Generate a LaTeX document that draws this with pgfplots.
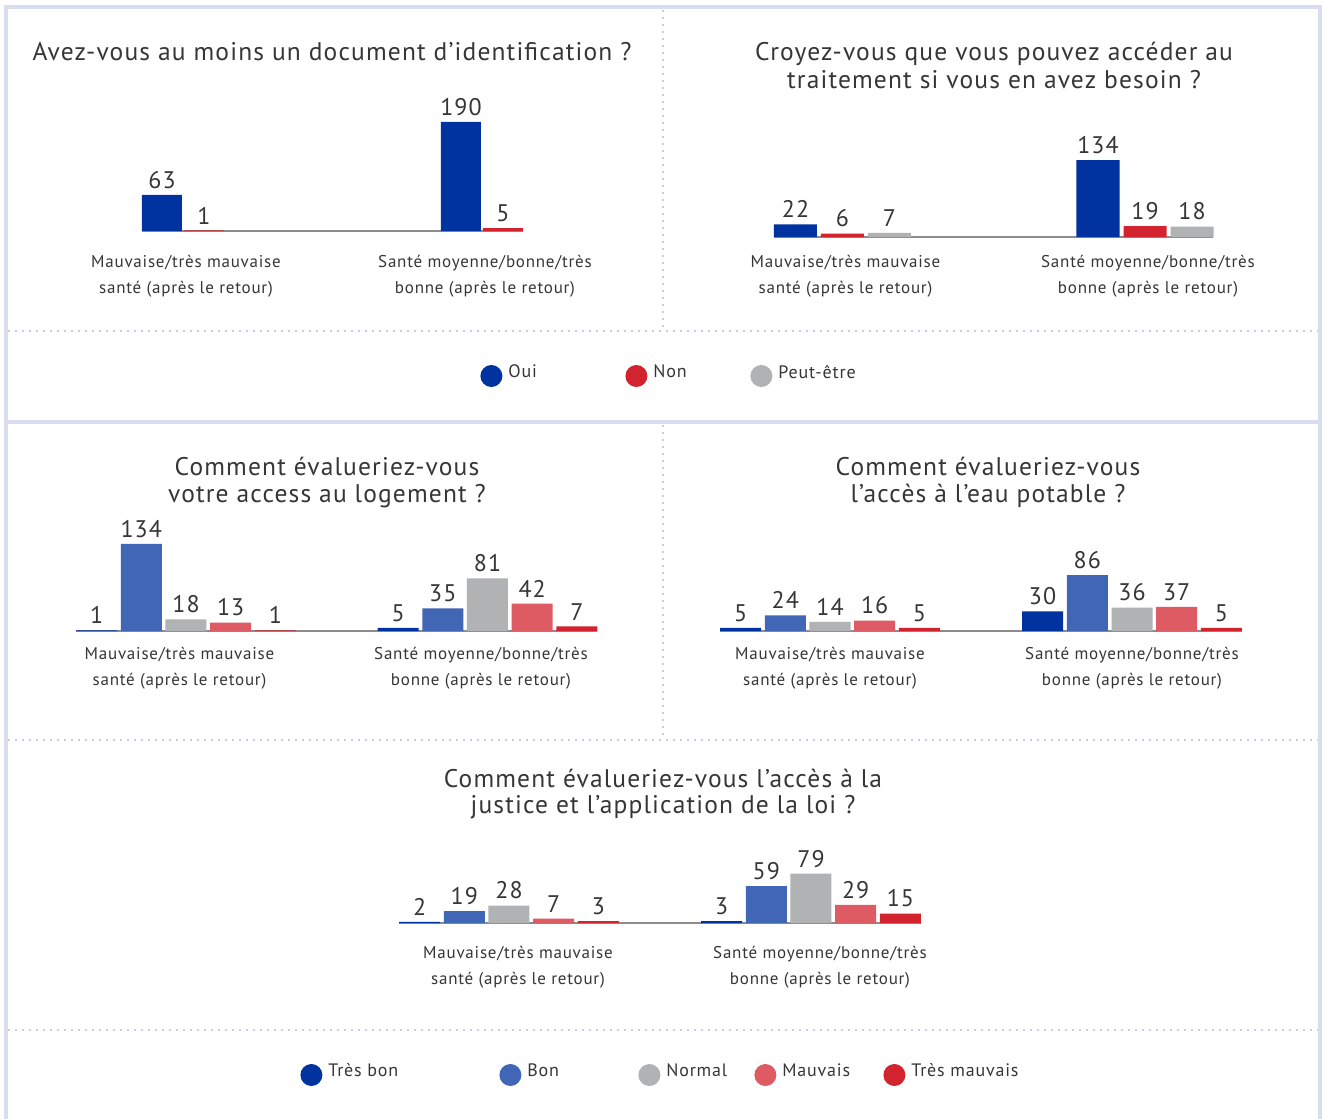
\documentclass[border=0pt]{standalone}
\usepackage{pgfplots}
\pgfplotsset{compat=1.18}
\usepackage{fontspec}
\setmainfont{PT Sans}[LetterSpace=4.5]
\definecolor{cTB}{HTML}{0033A0}
\definecolor{cB}{HTML}{4166B5}
\definecolor{cN}{HTML}{B1B2B4}
\definecolor{cM}{HTML}{DE5B63}
\definecolor{cTM}{HTML}{D2232F}
\definecolor{txt}{HTML}{363636}
\definecolor{axg}{HTML}{8C8C8C}
\definecolor{frm}{HTML}{D8DEF0}
\definecolor{dots}{HTML}{C5CDE8}
\newcommand{\titlefont}{\fontsize{12.75}{14}\selectfont}
\pgfplotsset{
  panel/.style={
    ybar, clip=false, anchor=south west,
    axis x line*=bottom, axis y line=none,
    x axis line style={draw=axg, line width=1pt, -},
    xtick={0,1}, major tick length=0pt, ytick=\empty,
    ymin=0, enlargelimits=false,
    /pgf/number format/assume math mode=true,
    xticklabels={{Mauvaise/très mauvaise\\santé (après le retour)},{Santé moyenne/bonne/très\\bonne (après le retour)}},
    xticklabel style={font=\fontsize{8.5}{13}\selectfont, text=txt, align=center},
    nodes near coords,
    nodes near coords style={font=\fontsize{12}{12}\selectfont, text=txt, inner sep=3pt},
  },
  legendaxis/.style={hide axis, scale only axis, width=2pt, height=2pt,
    xmin=0, xmax=1, ymin=0, ymax=1, anchor=west,
    legend columns=-1,
    legend style={draw=none, fill=none, at={(0,0.5)}, anchor=west,
      font=\fontsize{9}{10}\selectfont, text=txt, inner sep=0pt,
      /tikz/column sep=0pt, nodes={inner sep=0pt}},
    legend image code/.code={\path (-5.5pt,0) (5.5pt,0); \fill (0pt,0pt) circle (5.5pt);},
  }
}
\newcommand{\lt}[1]{\raisebox{3pt}{\hspace{3pt}#1}}
\begin{document}
\begin{tikzpicture}
\useasboundingbox (0,0) rectangle (661pt,-559.5pt);
\fill[white] (0,0) rectangle (661pt,-559.5pt);
% frame
\fill[frm] (2pt,-2.5pt) rectangle (661pt,-4.5pt);
\fill[frm] (2pt,-2.5pt) rectangle (4pt,-559.5pt);
\fill[frm] (659pt,-2.5pt) rectangle (661pt,-559.5pt);
\fill[frm] (2pt,-210pt) rectangle (661pt,-212pt);
\begin{scope}[draw=dots, line width=1pt, dash pattern=on 1pt off 2.5pt]
\draw (4pt,-165.5pt) -- (659pt,-165.5pt);
\draw (331.5pt,-5pt) -- (331.5pt,-165.5pt);
\draw (331.5pt,-212.5pt) -- (331.5pt,-370pt);
\draw (4pt,-370pt) -- (659pt,-370pt);
\draw (4pt,-515pt) -- (659pt,-515pt);
\end{scope}
% titles
\begin{scope}[every node/.style={anchor=base, font=\titlefont, text=txt, inner sep=0pt}]
\node at (166pt,-30.5pt) {Avez-vous au moins un document d’identification ?};
\node at (497pt,-30.5pt) {Croyez-vous que vous pouvez accéder au};
\node at (497pt,-44pt) {traitement si vous en avez besoin ?};
\node at (163.5pt,-237.5pt) {Comment évalueriez-vous};
\node at (163.5pt,-251pt) {votre access au logement ?};
\node at (494pt,-237.5pt) {Comment évalueriez-vous};
\node at (494pt,-251pt) {l’accès à l’eau potable ?};
\node at (331.5pt,-393.5pt) {Comment évalueriez-vous l’accès à la};
\node at (331.5pt,-406.5pt) {justice et l’application de la loi ?};
\end{scope}
% top-left
\begin{axis}[panel, at={(71pt,-115.5pt)}, x=149.5pt, y=0.287pt,
  xmin=-0.1371, xmax=1.1371, ymax=200, ybar=1pt, bar width=20pt,
  xticklabel style={xshift=1.5pt, yshift=-8.7pt}]
\addplot[fill=cTB, draw=none] coordinates {(0,63) (1,190)};
\addplot[fill=cTM, draw=none] coordinates {(0,1) (1,5)};
\end{axis}
% top-right
\begin{axis}[panel, at={(387pt,-118.5pt)}, x=151.25pt, y=0.2873pt,
  xmin=-0.2264, xmax=1.2264, ymax=150, ybar=2pt, bar width=21.5pt,
  xticklabel style={xshift=1.5pt, yshift=-5.7pt}]
\addplot[fill=cTB, draw=none] coordinates {(0,22) (1,134)};
\addplot[fill=cTM, draw=none] coordinates {(0,6) (1,19)};
\addplot[fill=cN, draw=none] coordinates {(0,7) (1,18)};
\end{axis}
% middle-left
\begin{axis}[panel, at={(38pt,-315.5pt)}, x=150.75pt, y=0.325pt,
  xmin=-0.3648, xmax=1.3648, ymax=150, ybar=1.85pt, bar width=20.5pt,
  xticklabel style={xshift=-3.25pt, yshift=-4.7pt}]
\addplot[fill=cTB, draw=none] coordinates {(0,1) (1,5)};
\addplot[fill=cB, draw=none] coordinates {(0,134) (1,35)};
\addplot[fill=cN, draw=none] coordinates {(0,18) (1,81)};
\addplot[fill=cM, draw=none] coordinates {(0,13) (1,42)};
\addplot[fill=cTM, draw=none] coordinates {(0,1) (1,7)};
\end{axis}
% middle-right
\begin{axis}[panel, at={(360pt,-315.5pt)}, x=151pt, y=0.3256pt,
  xmin=-0.3642, xmax=1.3642, ymax=100, ybar=1.85pt, bar width=20.5pt,
  xticklabel style={xshift=0pt, yshift=-4.7pt}]
\addplot[fill=cTB, draw=none] coordinates {(0,5) (1,30)};
\addplot[fill=cB, draw=none] coordinates {(0,24) (1,86)};
\addplot[fill=cN, draw=none] coordinates {(0,14) (1,36)};
\addplot[fill=cM, draw=none] coordinates {(0,16) (1,37)};
\addplot[fill=cTM, draw=none] coordinates {(0,5) (1,5)};
\end{axis}
% bottom
\begin{axis}[panel, at={(199.5pt,-461.5pt)}, x=151pt, y=0.312pt,
  xmin=-0.3642, xmax=1.3642, ymax=100, ybar=1.85pt, bar width=20.5pt,
  xticklabel style={xshift=4.5pt, yshift=-8.2pt}]
\addplot[fill=cTB, draw=none] coordinates {(0,2) (1,3)};
\addplot[fill=cB, draw=none] coordinates {(0,19) (1,59)};
\addplot[fill=cN, draw=none] coordinates {(0,28) (1,79)};
\addplot[fill=cM, draw=none] coordinates {(0,7) (1,29)};
\addplot[fill=cTM, draw=none] coordinates {(0,3) (1,15)};
\end{axis}
% legends
\begin{axis}[legendaxis, at={(240pt,-188pt)}]
\addlegendimage{fill=cTB, draw=none}
\addlegendentry{\makebox[61.5pt][l]{\lt{Oui}}}
\addlegendimage{fill=cTM, draw=none}
\addlegendentry{\makebox[51.5pt][l]{\lt{Non}}}
\addlegendimage{fill=cN, draw=none}
\addlegendentry{\lt{Peut-être}}
\end{axis}
\begin{axis}[legendaxis, at={(150pt,-537.5pt)}]
\addlegendimage{fill=cTB, draw=none}
\addlegendentry{\makebox[88.5pt][l]{\lt{Très bon}}}
\addlegendimage{fill=cB, draw=none}
\addlegendentry{\makebox[58.5pt][l]{\lt{Bon}}}
\addlegendimage{fill=cN, draw=none}
\addlegendentry{\makebox[47pt][l]{\lt{Normal}}}
\addlegendimage{fill=cM, draw=none}
\addlegendentry{\makebox[53.5pt][l]{\lt{Mauvais}}}
\addlegendimage{fill=cTM, draw=none}
\addlegendentry{\lt{Très mauvais}}
\end{axis}
\end{tikzpicture}
\end{document}
